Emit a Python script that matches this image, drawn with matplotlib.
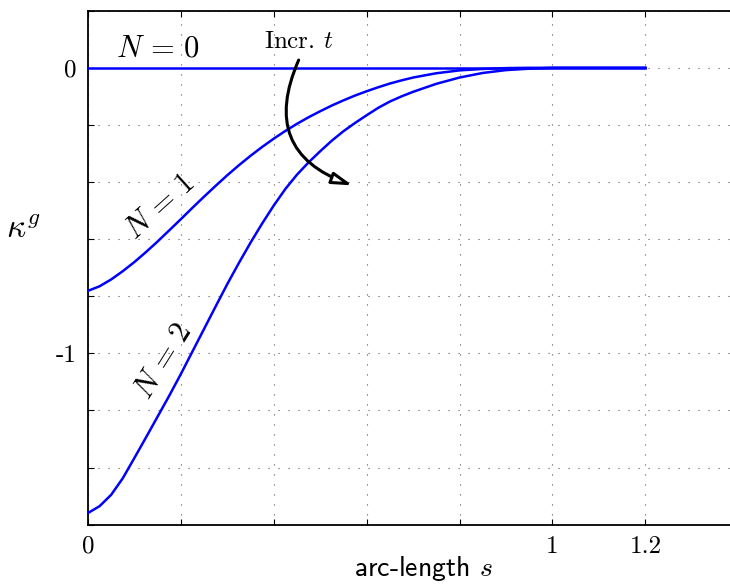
import matplotlib
matplotlib.use('Agg')
import matplotlib.pyplot as plt
from matplotlib.patches import FancyArrowPatch

plt.rcParams['mathtext.fontset'] = 'cm'
plt.rcParams['axes.unicode_minus'] = False

# arc-length samples and geodesic curvature for each N
s_n0 = [0.0, 1.2]
k_n0 = [0.0, 0.0]

s_n1 = [0.0, 0.025, 0.05, 0.075, 0.1, 0.125, 0.15, 0.175, 0.2, 0.225,
        0.25, 0.275, 0.3, 0.325, 0.35, 0.375, 0.4, 0.425, 0.45, 0.475,
        0.5, 0.525, 0.55, 0.575, 0.6, 0.625, 0.65, 0.675, 0.7, 0.75,
        0.8, 0.85, 0.9, 0.95, 1.0, 1.2]
k_n1 = [-0.781, -0.765, -0.741, -0.712, -0.680, -0.645, -0.608, -0.569, -0.530, -0.490,
        -0.451, -0.413, -0.376, -0.341, -0.308, -0.277, -0.248, -0.221, -0.196, -0.173,
        -0.152, -0.132, -0.114, -0.097, -0.082, -0.068, -0.055, -0.044, -0.034, -0.019,
        -0.009, -0.004, -0.001, 0.0, 0.0, 0.0]

s_n2 = [0.0, 0.025, 0.05, 0.075, 0.1, 0.125, 0.15, 0.175, 0.2, 0.225,
        0.25, 0.275, 0.3, 0.325, 0.35, 0.375, 0.4, 0.425, 0.45, 0.475,
        0.5, 0.525, 0.55, 0.575, 0.6, 0.625, 0.65, 0.675, 0.7, 0.75,
        0.8, 0.85, 0.9, 0.95, 1.0, 1.2]
k_n2 = [-1.559, -1.535, -1.495, -1.437, -1.366, -1.294, -1.221, -1.148, -1.072, -0.993,
        -0.914, -0.835, -0.757, -0.683, -0.612, -0.545, -0.482, -0.424, -0.374, -0.331,
        -0.292, -0.255, -0.222, -0.193, -0.166, -0.140, -0.118, -0.100, -0.084, -0.056,
        -0.034, -0.018, -0.008, -0.003, 0.0, 0.0]

x_ticks = [0, 0.2, 0.4, 0.6, 0.8, 1.0, 1.2]
x_labels = ['0', '', '', '', '', '1', '1.2']
y_ticks = [-1.6, -1.4, -1.2, -1.0, -0.8, -0.6, -0.4, -0.2, 0.0, 0.2]
y_labels = ['', '', '', '-1', '', '', '', '', '0', '']


def graficar():
    fig = plt.figure(figsize=(7.3, 5.87), dpi=100)
    ax = fig.add_axes([88 / 730, 62.3 / 587, 650.3 / 730, 514 / 587])

    for s, k in [(s_n0, k_n0), (s_n1, k_n1), (s_n2, k_n2)]:
        ax.plot(s, k, color='blue', linewidth=1.8, zorder=3,
                solid_joinstyle='round')

    ax.set_xlim(0, 1.4)
    ax.set_ylim(-1.6, 0.2)
    ax.set_xticks(x_ticks)
    ax.set_xticklabels(x_labels, family='cmr10', fontsize=18)
    ax.set_yticks(y_ticks)
    ax.set_yticklabels(y_labels, family='cmr10', fontsize=18)
    ax.tick_params(direction='in', length=4, width=0.8, top=True, pad=8)
    ax.grid(True, color='#555555', linestyle=(0, (1, 8)), linewidth=0.8)
    for sp in ax.spines.values():
        sp.set_linewidth(1.3)
    ax.spines['right'].set_visible(False)

    ax.set_xlabel('arc-length $s$', family='cmss10', fontsize=20)
    ax.xaxis.set_label_coords(0.515, -0.057)
    ax.set_ylabel(r'$\kappa^g$', fontsize=24, rotation=0)
    ax.yaxis.set_label_coords(-0.1, 0.544)

    ax.text(0.151, 0.071, r'$N\,=\,0$', fontsize=22, ha='center', va='center')
    ax.text(0.155, -0.485, r'$N\,=\,1$', fontsize=22, ha='center', va='center',
            rotation=42)
    ax.text(0.162, -1.025, r'$N\,=\,2$', fontsize=22, ha='center', va='center',
            rotation=58)
    ax.text(0.454, 0.092, r'Incr. $t$', family='cmr10', fontsize=18,
            ha='center', va='center')

    flecha = FancyArrowPatch((0.456, 0.036), (0.575, -0.415),
                             connectionstyle='arc3,rad=0.55',
                             arrowstyle='-|>,head_length=12,head_width=3.5',
                             linewidth=2.2, edgecolor='black', facecolor='white',
                             zorder=4)
    ax.add_patch(flecha)

    fig.savefig('out.png', dpi=100)


if __name__ == "__main__":
    graficar()
